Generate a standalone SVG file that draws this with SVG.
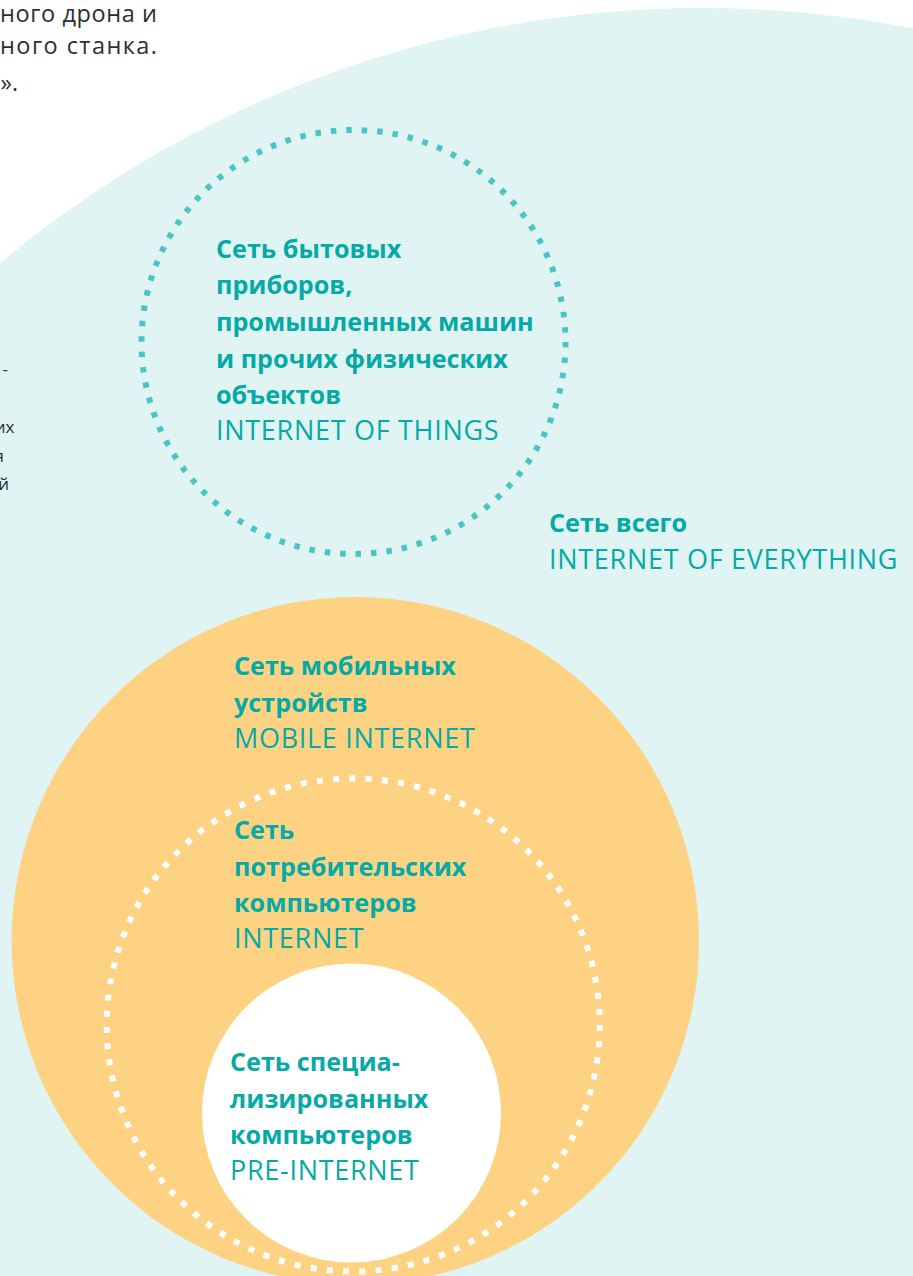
<svg xmlns="http://www.w3.org/2000/svg" width="913" height="1276" viewBox="0 0 913 1276">
<style>
.b{font-family:"Open Sans","Liberation Sans",sans-serif;font-weight:700;font-size:25.2px;fill:#05aaa6}
.r{font-family:"Open Sans","Liberation Sans",sans-serif;font-weight:400;font-size:27px;letter-spacing:0.7px;fill:#05aaa6}
.g{font-family:"Open Sans","Liberation Sans",sans-serif;font-weight:400;fill:#2e2e2e}
</style>
<rect width="913" height="1276" fill="#ffffff"/>
<g id="everything-bg"><circle cx="702" cy="1101" r="1093" fill="#e0f4f3"/></g>
<g id="side-text">
<text class="g" font-size="23.5" x="0" y="21.5" textLength="157">ного дрона и</text>
<text class="g" font-size="23.5" x="0" y="54" textLength="157">ного станка.</text>
<text class="g" font-size="23" text-anchor="end" x="18" y="91">».</text>
<text class="g" font-size="17" text-anchor="end" x="8" y="375">-</text>
<text class="g" font-size="17" text-anchor="end" x="14.5" y="433">их</text>
<text class="g" font-size="17" text-anchor="end" x="4" y="461.5">я</text>
<text class="g" font-size="17" text-anchor="end" x="9" y="490">й</text>
</g>
<g id="iot">
<circle cx="353.5" cy="342" r="212" fill="none" stroke="#4cc4c4" stroke-width="6" stroke-dasharray="5.5 9.99"/>
<text class="b" x="216" y="257.7">Сеть бытовых</text>
<text class="b" x="216" y="294.4">приборов,</text>
<text class="b" x="216" y="331">промышленных машин</text>
<text class="b" x="216" y="367.7">и прочих физических</text>
<text class="b" x="216" y="404.4">объектов</text>
<text class="r" x="216" y="440">INTERNET OF THINGS</text>
</g>
<g id="ioe-label">
<text class="b" x="549" y="532.3">Сеть всего</text>
<text class="r" x="549" y="569.3">INTERNET OF EVERYTHING</text>
</g>
<g id="mobile">
<circle cx="355.3" cy="940.7" r="343.7" fill="#fed283"/>
<text class="b" x="234" y="674.5">Сеть мобильных</text>
<text class="b" x="234" y="711.5">устройств</text>
<text class="r" x="234" y="748">MOBILE INTERNET</text>
</g>
<g id="internet">
<circle cx="353.2" cy="1025" r="246.5" fill="none" stroke="#ffffff" stroke-width="6" stroke-dasharray="6 10.3"/>
<text class="b" x="234" y="838.8">Сеть</text>
<text class="b" x="234" y="875.6">потребительских</text>
<text class="b" x="234" y="912">компьютеров</text>
<text class="r" x="234" y="948.4">INTERNET</text>
</g>
<g id="pre-internet">
<circle cx="351.5" cy="1113" r="149.5" fill="#ffffff"/>
<text class="b" x="230" y="1070.5">Сеть специа-</text>
<text class="b" x="230" y="1107.5">лизированных</text>
<text class="b" x="230" y="1144">компьютеров</text>
<text class="r" x="230" y="1180">PRE-INTERNET</text>
</g>
<g id="connectors"/>
</svg>
